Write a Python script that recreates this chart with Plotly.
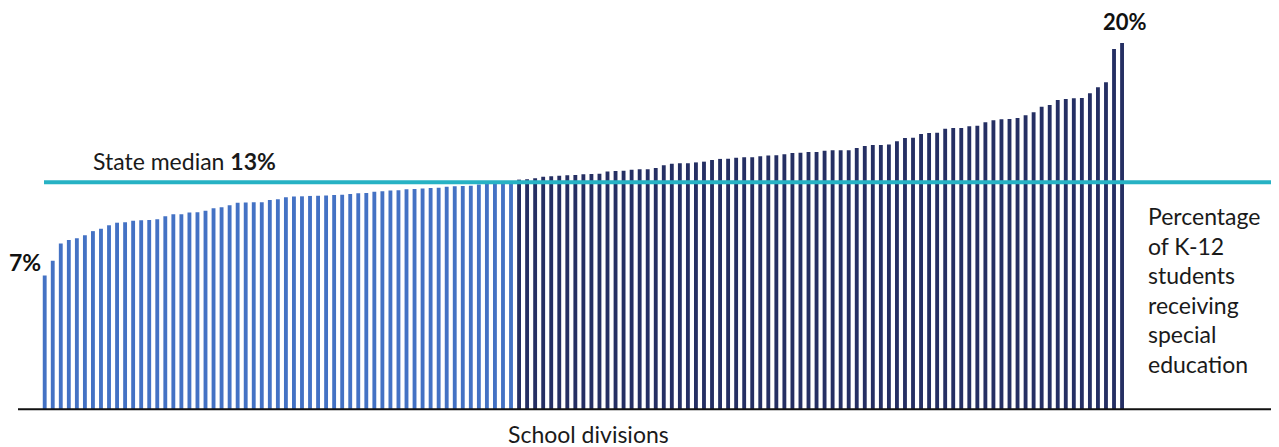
import plotly.graph_objects as go

# Percentage of K-12 students receiving special education, by school division (sorted)
division_values = [
    7.30, 8.11, 9.05, 9.23, 9.33, 9.49, 9.72, 9.85, 10.04, 10.18,
    10.21, 10.29, 10.31, 10.33, 10.37, 10.53, 10.64, 10.64, 10.73, 10.75,
    10.83, 10.97, 11.02, 11.13, 11.27, 11.28, 11.30, 11.30, 11.42, 11.46,
    11.57, 11.61, 11.62, 11.64, 11.65, 11.67, 11.69, 11.71, 11.75, 11.78,
    11.80, 11.87, 11.89, 11.93, 11.95, 12.00, 12.02, 12.04, 12.07, 12.09,
    12.14, 12.17, 12.18, 12.20, 12.27, 12.29, 12.31, 12.33, 12.35, 12.53,
    12.55, 12.60, 12.69, 12.71, 12.74, 12.77, 12.78, 12.82, 12.84, 12.85,
    12.97, 13.00, 13.01, 13.07, 13.09, 13.09, 13.16, 13.32, 13.40, 13.42,
    13.42, 13.47, 13.51, 13.60, 13.66, 13.67, 13.73, 13.75, 13.75, 13.80,
    13.84, 13.86, 13.91, 13.98, 14.00, 14.04, 14.04, 14.11, 14.13, 14.13,
    14.13, 14.26, 14.36, 14.42, 14.42, 14.44, 14.62, 14.80, 14.82, 15.02,
    15.07, 15.09, 15.31, 15.35, 15.35, 15.44, 15.47, 15.66, 15.77, 15.82,
    15.84, 15.89, 16.04, 16.20, 16.51, 16.60, 16.87, 16.93, 16.97, 16.98,
    17.24, 17.57, 17.84, 19.66, 19.99,
]
division_index = list(range(len(division_values)))
median_line_value = 12.38
median_label = "State median <b>13%</b>"
min_label = "<b>7%</b>"
max_label = "<b>20%</b>"
measure_lines = ["Percentage", "of K-12", "students", "receiving", "special", "education"]
x_title = "School divisions"

LIGHT = "#4472C4"
DARK = "#252F63"
TEAL = "#27B2C4"
FONT = "Lato"
FS = 23

# the page body has an 8px margin; lay out in window pixels and shift
OFF = 8
WIN_W, WIN_H = 1279, 447
W, H = WIN_W - OFF, WIN_H - OFF
first_bar_px = 44.7 - OFF
pitch_px = 8.04
base_px = 409.3 - OFF
px_per_unit = 18.33

colors = [LIGHT if v < median_line_value else DARK for v in division_values]

fig = go.Figure()
fig.add_trace(go.Bar(
    x=division_index, y=division_values,
    marker=dict(color=colors, line=dict(width=0)),
    hoverinfo="skip", showlegend=False,
))

x0 = -first_bar_px / pitch_px
x1 = x0 + W / pitch_px
y0 = -(H - base_px) / px_per_unit
y1 = base_px / px_per_unit

fig.update_layout(
    width=W, height=H,
    margin=dict(l=0, r=0, t=0, b=0, pad=0),
    paper_bgcolor="white", plot_bgcolor="white",
    bargap=0.52,
    xaxis=dict(range=[x0, x1], visible=False, fixedrange=True),
    yaxis=dict(range=[y0, y1], visible=False, fixedrange=True),
    font=dict(family=FONT, size=FS, color="#1a1a1a"),
)

# baseline axis
fig.add_shape(type="line", xref="paper", yref="y", x0=(18 - OFF) / W, x1=1.0, y0=0, y1=0,
              line=dict(color="#111111", width=2), layer="above")
# median line
fig.add_shape(type="line", xref="paper", yref="y", x0=(44 - OFF) / W, x1=1.0,
              y0=median_line_value, y1=median_line_value,
              line=dict(color=TEAL, width=4), layer="above")

def ann(text, xpx, ypx, xanchor="center", size=FS, color="#1a1a1a"):
    fig.add_annotation(text=text, xref="paper", yref="paper",
                       x=(xpx - OFF) / W, y=1 - (ypx - OFF) / H,
                       xanchor=xanchor, yanchor="middle", borderpad=0,
                       showarrow=False, font=dict(family=FONT, size=size, color=color))

ann(median_label, 92, 161, xanchor="left")
ann(min_label, 42, 262, xanchor="right", color="#111111")
ann(max_label, 1125, 22, size=22, color="#111111")
line_y0, line_step = 216, 29.6
for i, t in enumerate(measure_lines):
    ann(t, 1147, line_y0 + i * line_step, xanchor="left")
ann(x_title, 588, 434)

fig.write_html("out.html")
